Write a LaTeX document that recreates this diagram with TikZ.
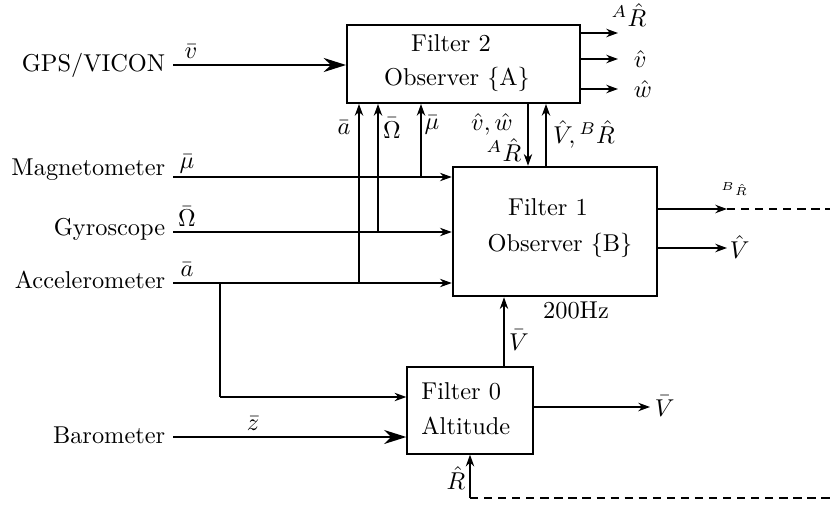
\RequirePackage{fix-cm}
\documentclass[tikz,border=0pt]{standalone}
\usetikzlibrary{arrows.meta}
\begin{document}
\begin{tikzpicture}[x=0.015cm,y=-0.015cm,
  every node/.style={font=\fontsize{10.4pt}{12.5pt}\selectfont},
  arr/.style={line width=0.45pt,-{Stealth[length=5pt,width=3.6pt,inset=1.6pt]}},
  bigarr/.style={line width=0.6pt,-{Stealth[length=9.5pt,width=6pt,inset=3pt]}},
  ln/.style={line width=0.45pt},
  dsh/.style={line width=0.45pt,dash pattern=on 3.5pt off 2.5pt},
  box/.style={draw,line width=0.85pt,inner sep=0pt},
  lbl/.style={inner sep=1pt},
  title/.style={inner sep=0pt}]
\useasboundingbox (0,0) rectangle (830,506);
% boxes
\node[box,minimum width=3.495cm,minimum height=1.17cm] (f2) at (463.5,64) {};
\node[title] (f2a) at (451,43) {Filter 2};
\node[title] (f2b) at (457,79) {Observer \{A\}};
\node[box,line width=1.1pt,minimum width=3.06cm,minimum height=1.935cm] (f1) at (555,231.5) {};
\node[title] (f1a) at (548,207) {Filter 1};
\node[title] (f1b) at (560,245) {Observer \{B\}};
\node[box,line width=0.6pt,minimum width=1.89cm,minimum height=1.305cm] (f0) at (470,410.5) {};
\node[title,anchor=west] (f0a) at (421,391) {Filter 0};
\node[title,anchor=west] (f0b) at (421,426) {Altitude};
% sensor labels
\node[lbl,anchor=east] (gps) at (168,65) {GPS/VICON};
\node[lbl,anchor=east] (mag) at (168,170) {Magnetometer};
\node[lbl,anchor=east] (gyr) at (168,229) {Gyroscope};
\node[lbl,anchor=east] (acc) at (168,280) {Accelerometer};
\node[lbl,anchor=east] (bar) at (168,435) {Barometer};
% start coordinates
\coordinate (gpsS) at (173,65);
\coordinate (magS) at (173,177);
\coordinate (gyrS) at (173,232);
\coordinate (accS) at (173,283);
\coordinate (barS) at (173,437);
\coordinate (accJ) at (359,283);
\coordinate (gyrJ) at (378,232);
\coordinate (magJ) at (421,177);
\coordinate (accB) at (220,283);
\coordinate (accB2) at (220,397);
% sensor lines
\draw[bigarr] (gpsS) -- (gpsS -| f2.west);
\draw[arr] (magS) -- (magS -| f1.west);
\draw[arr] (gyrS) -- (gyrS -| f1.west);
\draw[arr] (accS) -- (accS -| f1.west);
\draw[arr] (accJ) -- (accJ |- f2.south);
\draw[arr] (gyrJ) -- (gyrJ |- f2.south);
\draw[arr] (magJ) -- (magJ |- f2.south);
\draw[ln] (accB) -- (accB2);
\draw[arr] (accB2) -- (accB2 -| f0.west);
\draw[bigarr] (barS) -- (barS -| f0.west);
% sensor line labels
\node[lbl] (lv) at (191,52) {$\bar v$};
\node[lbl] (lmu) at (187,164) {$\bar\mu$};
\node[lbl] (lom) at (187,217) {$\bar\Omega$};
\node[lbl] (la) at (187,270) {$\bar a$};
\node[lbl] (lz) at (253,424) {$\bar z$};
\node[lbl] (la2) at (344,128) {$\bar a$};
\node[lbl] (lom2) at (392,128) {$\bar\Omega$};
\node[lbl] (lmu2) at (432,125) {$\bar\mu$};
% filter 2 outputs
\coordinate (o1) at (618,33);
\coordinate (o2) at (618,59);
\coordinate (o3) at (618,89);
\draw[arr] (o1 -| f2.east) -- (o1);
\draw[arr] (o2 -| f2.east) -- (o2);
\draw[arr] (o3 -| f2.east) -- (o3);
\node[lbl] (lAR) at (629,15) {${}^A\hat R$};
\node[lbl,anchor=west] (lvh) at (631,59) {$\hat v$};
\node[lbl,anchor=west] (lwh) at (631,89) {$\hat w$};
% between filter 2 and filter 1
\coordinate (dn) at (528,130);
\coordinate (up) at (546,130);
\draw[arr] (dn |- f2.south) -- (dn |- f1.north);
\draw[arr] (up |- f1.north) -- (up |- f2.south);
\node[lbl] (lvw) at (492,124) {$\hat v,\hat w$};
\node[lbl] (lAR2) at (504,150) {${}^A\hat R$};
\node[lbl] (lVB) at (584,134) {$\hat V\!,{}^B\hat R$};
% filter 1 outputs
\coordinate (p1) at (727,209);
\coordinate (p1e) at (830,209);
\coordinate (p2) at (727,248);
\draw[arr] (p1 -| f1.east) -- (p1);
\draw[dsh] (p1) -- (p1e);
\draw[arr] (p2 -| f1.east) -- (p2);
\node[lbl] (lBR) at (734,189) {\tiny ${}^B\hat R$};
\node[lbl,anchor=west] (lVh) at (727,247) {$\hat V$};
\node[lbl] (lhz) at (576,310) {200Hz};
% filter 0
\coordinate (q) at (504,330);
\draw[arr] (q |- f0.north) -- (q |- f1.south);
\node[lbl] (lVb) at (519,340) {$\bar V$};
\coordinate (r1) at (650,407);
\draw[arr] (r1 -| f0.east) -- (r1);
\node[lbl,anchor=west] (lVb2) at (652,406) {$\bar V$};
\coordinate (rh) at (470,498);
\coordinate (rhe) at (830,498);
\draw[arr] (rh) -- (rh |- f0.south);
\draw[dsh] (rh) -- (rhe);
\node[lbl] (lRh) at (456,478) {$\hat R$};
\end{tikzpicture}
\end{document}
